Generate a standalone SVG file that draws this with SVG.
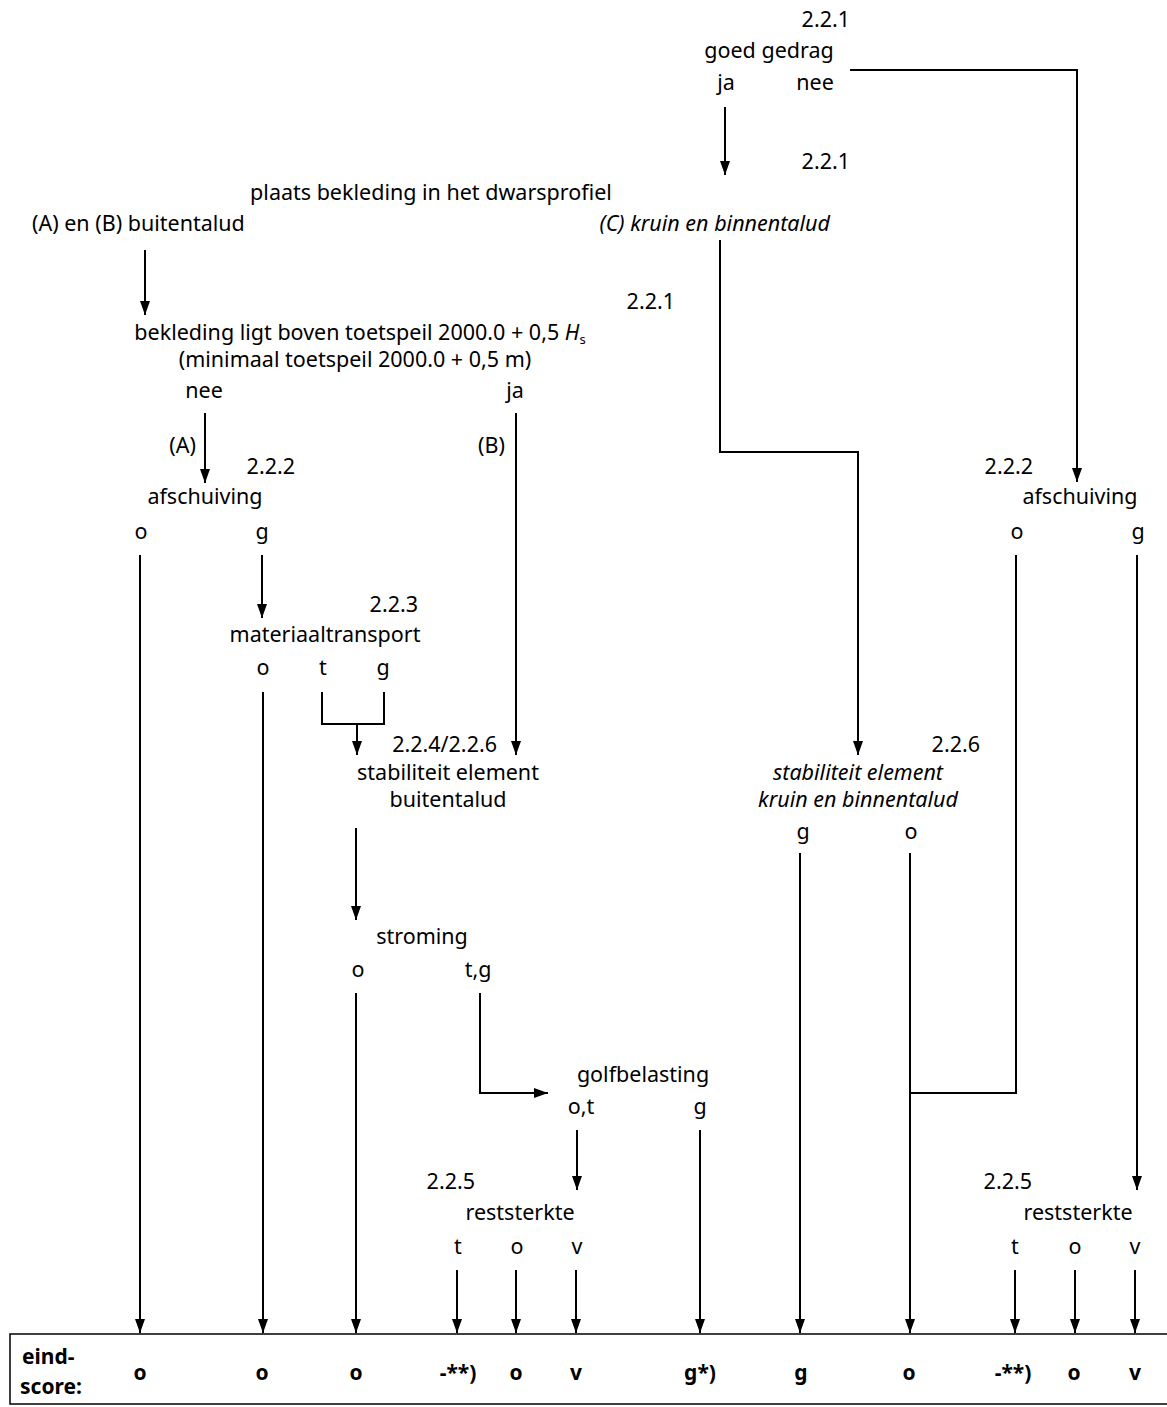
<svg xmlns="http://www.w3.org/2000/svg" width="1167" height="1407" viewBox="0 0 1167 1407">
<style>
  text { font-family: "Noto Sans", "Open Sans", "DejaVu Sans", sans-serif; font-size: 21.5px; fill: #000; }
  .m { text-anchor: middle; }
  .e { text-anchor: end; }
  .i { font-style: italic; }
  .b { font-weight: bold; font-size: 21px; }
  .c line, .c polyline { stroke: #000; stroke-width: 2; fill: none; }
  .a { marker-end: url(#arr); }
</style>
<defs>
  <marker id="arr" viewBox="0 0 14 10" markerWidth="14" markerHeight="10" refX="14" refY="5" orient="auto" markerUnits="userSpaceOnUse">
    <path d="M0,0 L14,5 L0,10 Z" fill="#000"/>
  </marker>
</defs>
<rect width="1167" height="1407" fill="#fff"/>

<g id="n-goed-gedrag">
  <text class="e" x="850" y="27">2.2.1</text>
  <text class="m" x="769" y="58">goed gedrag</text>
  <text class="m" x="726" y="90">ja</text>
  <text class="m" x="815" y="90">nee</text>
</g>

<g id="n-plaats">
  <text class="e" x="850" y="169">2.2.1</text>
  <text class="m" x="431" y="200">plaats bekleding in het dwarsprofiel</text>
  <text x="32" y="231">(A) en (B) buitentalud</text>
  <text class="e i" x="830" y="231">(C) kruin en binnentalud</text>
</g>

<g id="n-bekleding">
  <text class="e" x="675" y="309">2.2.1</text>
  <text class="m" x="360" y="340">bekleding ligt boven toetspeil 2000.0 + 0,5 <tspan class="i">H</tspan><tspan font-size="13" dy="4">s</tspan></text>
  <text class="m" x="355" y="367">(minimaal toetspeil 2000.0 + 0,5 m)</text>
  <text class="m" x="204" y="398">nee</text>
  <text class="m" x="515" y="398">ja</text>
  <text class="e" x="196" y="453">(A)</text>
  <text class="e" x="505" y="453">(B)</text>
</g>

<g id="n-afschuiving-ab">
  <text class="e" x="295" y="474">2.2.2</text>
  <text class="m" x="205" y="504">afschuiving</text>
  <text class="m" x="141" y="539">o</text>
  <text class="m" x="262" y="539">g</text>
</g>

<g id="n-materiaaltransport">
  <text class="e" x="418" y="612">2.2.3</text>
  <text class="m" x="325" y="642">materiaaltransport</text>
  <text class="m" x="263" y="675">o</text>
  <text class="m" x="323" y="675">t</text>
  <text class="m" x="383" y="675">g</text>
</g>

<g id="n-stabiliteit-buitentalud">
  <text class="e" x="497" y="752">2.2.4/2.2.6</text>
  <text class="m" x="448" y="780">stabiliteit element</text>
  <text class="m" x="448" y="807">buitentalud</text>
</g>

<g id="n-stroming">
  <text class="m" x="422" y="944">stroming</text>
  <text class="m" x="358" y="977">o</text>
  <text class="m" x="478" y="977">t,g</text>
</g>

<g id="n-golfbelasting">
  <text class="m" x="643" y="1082">golfbelasting</text>
  <text class="m" x="581" y="1114">o,t</text>
  <text class="m" x="700" y="1114">g</text>
</g>

<g id="n-reststerkte-1">
  <text class="e" x="475" y="1189">2.2.5</text>
  <text class="m" x="520" y="1220">reststerkte</text>
  <text class="m" x="458" y="1254">t</text>
  <text class="m" x="517" y="1254">o</text>
  <text class="m" x="577" y="1254">v</text>
</g>

<g id="n-afschuiving-c">
  <text class="e" x="1033" y="474">2.2.2</text>
  <text class="m" x="1080" y="504">afschuiving</text>
  <text class="m" x="1017" y="539">o</text>
  <text class="m" x="1138" y="539">g</text>
</g>

<g id="n-stabiliteit-kruin">
  <text class="e" x="980" y="752">2.2.6</text>
  <text class="m i" x="858" y="780">stabiliteit element</text>
  <text class="m i" x="858" y="807">kruin en binnentalud</text>
  <text class="m" x="803" y="839">g</text>
  <text class="m" x="911" y="839">o</text>
</g>

<g id="n-reststerkte-2">
  <text class="e" x="1032" y="1189">2.2.5</text>
  <text class="m" x="1078" y="1220">reststerkte</text>
  <text class="m" x="1015" y="1254">t</text>
  <text class="m" x="1075" y="1254">o</text>
  <text class="m" x="1135" y="1254">v</text>
</g>

<g id="n-eindscore">
  <rect x="10" y="1334" width="1170" height="70" fill="none" stroke="#000" stroke-width="1.5"/>
  <text class="b" x="22" y="1364" font-size="19">eind-</text>
  <text class="b" x="20" y="1394" font-size="19">score:</text>
  <text class="m b" x="140" y="1380">o</text>
  <text class="m b" x="262" y="1380">o</text>
  <text class="m b" x="356" y="1380">o</text>
  <text class="m b" x="458" y="1380">-**)</text>
  <text class="m b" x="516" y="1380">o</text>
  <text class="m b" x="576" y="1380">v</text>
  <text class="m b" x="700" y="1380">g*)</text>
  <text class="m b" x="801" y="1380">g</text>
  <text class="m b" x="909" y="1380">o</text>
  <text class="m b" x="1013" y="1380">-**)</text>
  <text class="m b" x="1074" y="1380">o</text>
  <text class="m b" x="1135" y="1380">v</text>
</g>

<g id="connectors" class="c">
  <polyline class="a" points="850,70 1077,70 1077,482"/>
  <line class="a" x1="725" y1="107" x2="725" y2="175"/>
  <line class="a" x1="145" y1="250" x2="145" y2="315"/>
  <polyline class="a" points="720,240 720,452 858,452 858,755"/>
  <line class="a" x1="205" y1="413" x2="205" y2="483"/>
  <line class="a" x1="516" y1="413" x2="516" y2="755"/>
  <line class="a" x1="140" y1="555" x2="140" y2="1333"/>
  <line class="a" x1="262" y1="555" x2="262" y2="618"/>
  <line class="a" x1="263" y1="692" x2="263" y2="1333"/>
  <polyline points="322,692 322,724 384,724 384,692"/>
  <line class="a" x1="357" y1="724" x2="357" y2="755"/>
  <line class="a" x1="356" y1="828" x2="356" y2="920"/>
  <line class="a" x1="356" y1="993" x2="356" y2="1333"/>
  <polyline class="a" points="480,993 480,1093 548,1093"/>
  <line class="a" x1="577" y1="1130" x2="577" y2="1190"/>
  <line class="a" x1="700" y1="1130" x2="700" y2="1333"/>
  <line class="a" x1="457" y1="1270" x2="457" y2="1333"/>
  <line class="a" x1="516" y1="1270" x2="516" y2="1333"/>
  <line class="a" x1="576" y1="1270" x2="576" y2="1333"/>
  <polyline points="1016,555 1016,1093 910,1093"/>
  <line class="a" x1="1137" y1="555" x2="1137" y2="1190"/>
  <line class="a" x1="800" y1="853" x2="800" y2="1333"/>
  <line class="a" x1="910" y1="853" x2="910" y2="1333"/>
  <line class="a" x1="1015" y1="1270" x2="1015" y2="1333"/>
  <line class="a" x1="1075" y1="1270" x2="1075" y2="1333"/>
  <line class="a" x1="1135" y1="1270" x2="1135" y2="1333"/>
</g>
</svg>
